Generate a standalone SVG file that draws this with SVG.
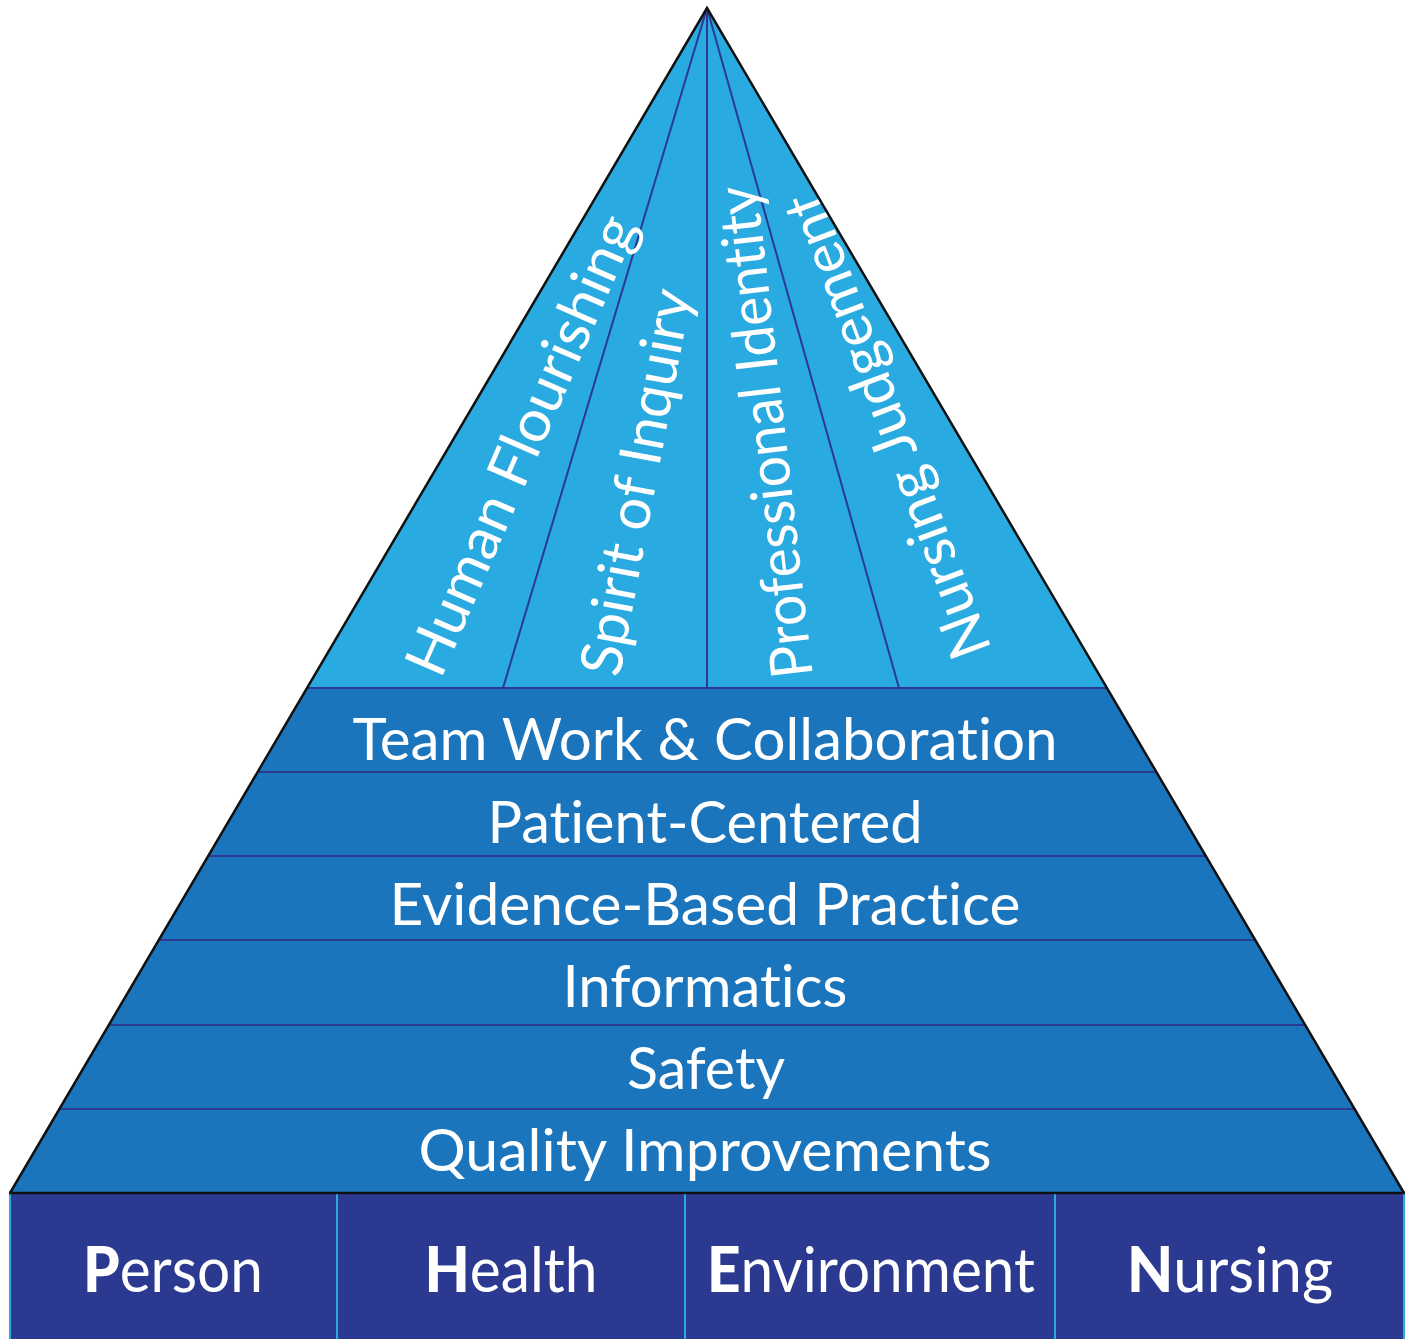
<svg xmlns="http://www.w3.org/2000/svg" width="1412" height="1339" viewBox="0 0 1412 1339">
<style>
.t{font-family:Lato,"Open Sans","Liberation Sans",sans-serif;fill:#fff;font-variant-ligatures:none;font-feature-settings:"liga" 0,"dlig" 0;}
.band{fill:#1b75bc;}
.sep{stroke:#2b3990;stroke-width:2;fill:none;}
.box{fill:#2b3990;}
.bl{font-size:58px;text-anchor:middle;}
.rt{font-size:58px;text-anchor:middle;}
.bt{font-size:62px;text-anchor:middle;}
.b{font-weight:900;}
</style>
<rect width="1412" height="1339" fill="#fff"/>
<g id="apex">
<polygon points="707,8 307,688 1107,688" fill="#29aae1"/>
</g>
<g id="connectors">
<line class="sep" x1="707" y1="8" x2="503" y2="688"/>
<line class="sep" x1="707" y1="8" x2="707" y2="688"/>
<line class="sep" x1="707" y1="8" x2="899" y2="688"/>
</g>
<g id="human-flourishing"><text class="t rt" transform="translate(521,445) rotate(-66.5)" y="20" textLength="495" lengthAdjust="spacingAndGlyphs">Human Flourishing</text></g>
<g id="spirit-of-inquiry"><text class="t rt" transform="translate(636,482) rotate(-79.4)" y="20" textLength="392" lengthAdjust="spacingAndGlyphs">Spirit of Inquiry</text></g>
<g id="professional-identity"><text class="t rt" transform="translate(765,432) rotate(-96.5)" y="20" textLength="495" lengthAdjust="spacingAndGlyphs">Professional Identity</text></g>
<g id="nursing-judgement"><text class="t rt" transform="translate(887,426) rotate(-110.5)" y="20" textLength="492" lengthAdjust="spacingAndGlyphs">Nursing Judgement</text></g>
<g id="team-work">
<polygon class="band" points="307,688 1107,688 1157,772 257,772"/>
<text class="t bl" x="705" y="760" textLength="705" lengthAdjust="spacingAndGlyphs">Team Work &amp; Collaboration</text>
</g>
<g id="patient-centered">
<polygon class="band" points="257,772 1157,772 1206,856 208,856"/>
<text class="t bl" x="705" y="843" textLength="435" lengthAdjust="spacingAndGlyphs">Patient-Centered</text>
</g>
<g id="evidence-based-practice">
<polygon class="band" points="208,856 1206,856 1256,940 158,940"/>
<text class="t bl" x="705" y="925" textLength="631" lengthAdjust="spacingAndGlyphs">Evidence-Based Practice</text>
</g>
<g id="informatics">
<polygon class="band" points="158,940 1256,940 1305,1025 109,1025"/>
<text class="t bl" x="705" y="1007" textLength="285" lengthAdjust="spacingAndGlyphs">Informatics</text>
</g>
<g id="safety">
<polygon class="band" points="109,1025 1305,1025 1355,1109 59,1109"/>
<text class="t bl" x="706" y="1089" textLength="158" lengthAdjust="spacingAndGlyphs">Safety</text>
</g>
<g id="quality-improvements">
<polygon class="band" points="59,1109 1355,1109 1404,1193 10,1193"/>
<text class="t bl" x="705" y="1171" textLength="573" lengthAdjust="spacingAndGlyphs">Quality Improvements</text>
</g>
<g id="band-lines">
<line class="sep" x1="307" y1="688" x2="1107" y2="688"/>
<line class="sep" x1="257" y1="772" x2="1157" y2="772"/>
<line class="sep" x1="208" y1="856" x2="1206" y2="856"/>
<line class="sep" x1="158" y1="940" x2="1256" y2="940"/>
<line class="sep" x1="109" y1="1025" x2="1305" y2="1025"/>
<line class="sep" x1="59" y1="1109" x2="1355" y2="1109"/>
</g>
<g id="outline">
<polyline points="10,1193 707,8 1404,1193" fill="none" stroke="#111" stroke-width="2.5" stroke-linejoin="miter"/>
</g>
<g id="person">
<rect class="box" x="9" y="1193" width="328" height="146"/>
<text class="t bt" x="173" y="1292" textLength="180" lengthAdjust="spacingAndGlyphs"><tspan class="b">P</tspan>erson</text>
</g>
<g id="health">
<rect class="box" x="337" y="1193" width="348" height="146"/>
<text class="t bt" x="511" y="1292" textLength="173" lengthAdjust="spacingAndGlyphs"><tspan class="b">H</tspan>ealth</text>
</g>
<g id="environment">
<rect class="box" x="685" y="1193" width="370" height="146"/>
<text class="t bt" x="871" y="1292" textLength="328" lengthAdjust="spacingAndGlyphs"><tspan class="b">E</tspan>nvironment</text>
</g>
<g id="nursing">
<rect class="box" x="1055" y="1193" width="350" height="146"/>
<text class="t bt" x="1230" y="1292" textLength="206" lengthAdjust="spacingAndGlyphs"><tspan class="b">N</tspan>ursing</text>
</g>
<g id="box-lines" stroke="#29aae1" stroke-width="2">
<line x1="10" y1="1194" x2="10" y2="1339"/>
<line x1="337" y1="1194" x2="337" y2="1339"/>
<line x1="685" y1="1194" x2="685" y2="1339"/>
<line x1="1055" y1="1194" x2="1055" y2="1339"/>
<line x1="1404" y1="1194" x2="1404" y2="1339"/>
</g>
<line x1="9" y1="1193" x2="1405" y2="1193" stroke="#111" stroke-width="2.5"/>
</svg>
